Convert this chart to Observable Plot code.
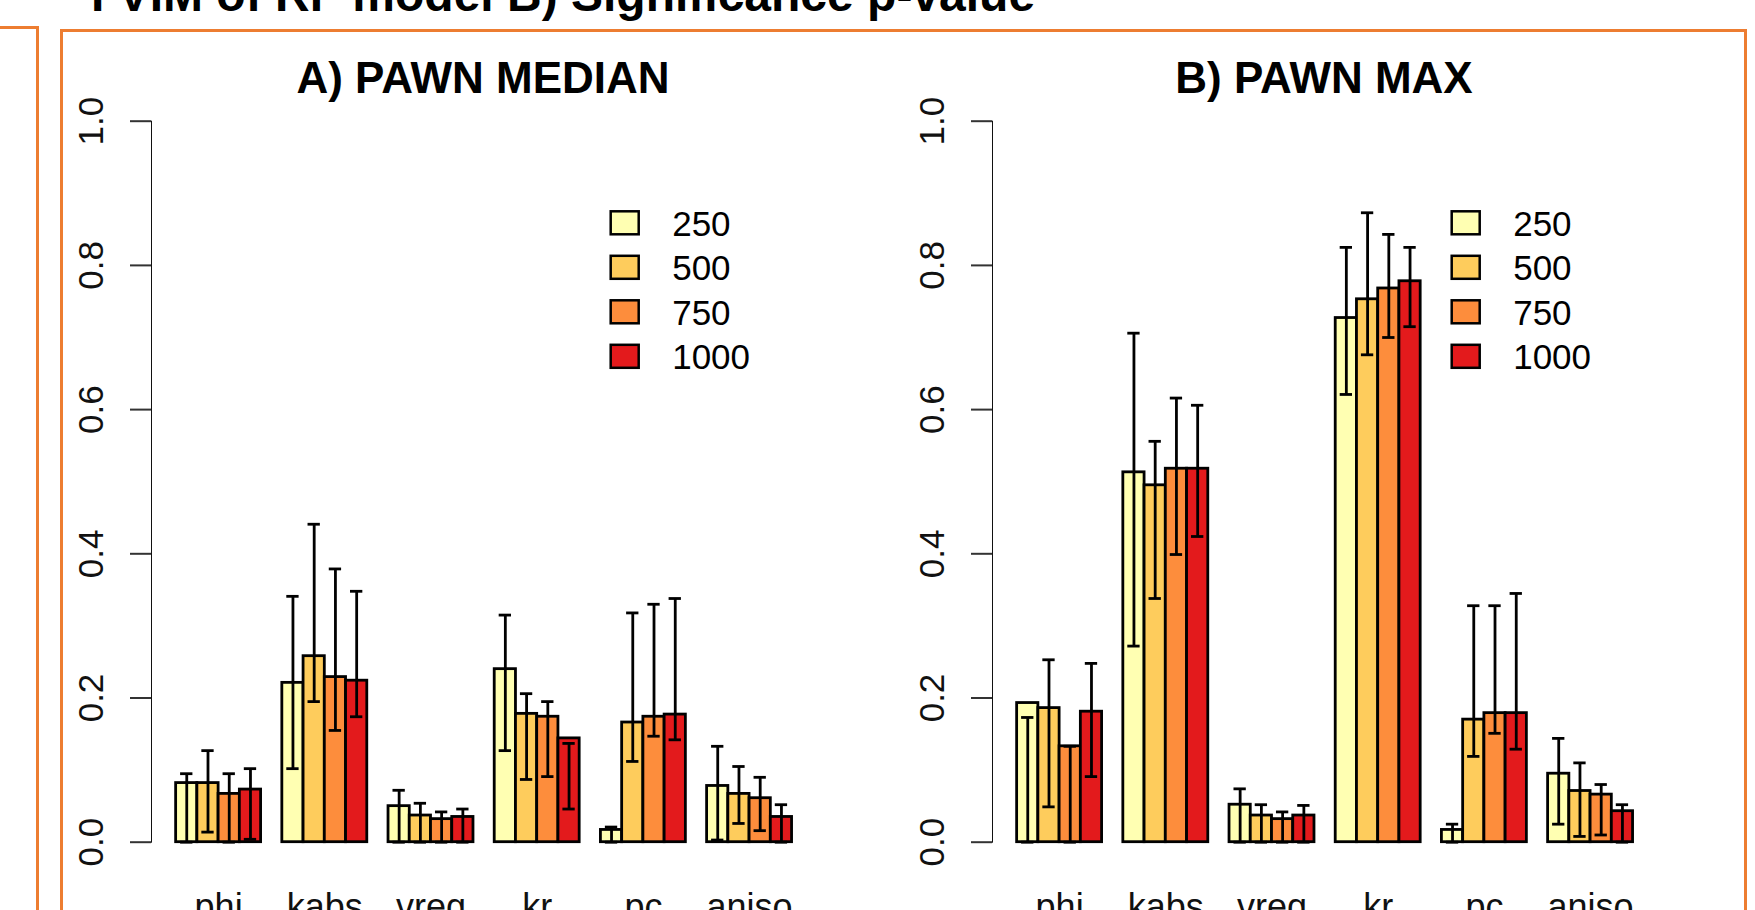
<!DOCTYPE html>
<html><head><meta charset="utf-8">
<script src="https://cdn.jsdelivr.net/npm/d3@7"></script>
<script src="https://cdn.jsdelivr.net/npm/@observablehq/plot@0.6"></script>
<style>
html,body{margin:0;padding:0;background:#fff;width:1755px;height:910px;overflow:hidden;font-family:"Liberation Sans",Arial,sans-serif;}
.panel{position:absolute;top:0;width:840px;height:910px;}
.panel svg{overflow:visible}
.frame{position:absolute;box-sizing:border-box;border:3.5px solid #ED7D31;border-bottom:none;}
#overlay{position:absolute;left:0;top:0;}
</style></head><body>
<div class="frame" style="left:-100px;top:26px;width:139px;height:1000px;"></div>
<div class="frame" style="left:60px;top:29px;width:1687px;height:1000px;"></div>
<div id="pA" class="panel" style="left:0px"></div>
<div id="pB" class="panel" style="left:841px"></div>
<svg id="overlay" width="1755" height="910"></svg>
<script>
// ---- data ----
const categories = ["phi", "kabs", "vreg", "kr", "pc", "aniso"];
const sizes = ["250", "500", "750", "1000"];
const colors = ["#FFFFB2", "#FECC5C", "#FD8D3C", "#E31A1C"];
const yTicks = [0, 0.2, 0.4, 0.6, 0.8, 1.0];
const topTitle = "I VIM of RF model B) Significance p-value";
const titleA = "A) PAWN MEDIAN";
const titleB = "B) PAWN MAX";

// A) PAWN MEDIAN: rows = categories, columns = sizes
const medianMean = [
  [0.082, 0.082, 0.067, 0.073],
  [0.221, 0.258, 0.229, 0.224],
  [0.050, 0.037, 0.032, 0.035],
  [0.240, 0.178, 0.174, 0.144],
  [0.017, 0.166, 0.174, 0.177],
  [0.078, 0.067, 0.061, 0.035]
];
const medianLow = [
  [0.000, 0.014, 0.000, 0.004],
  [0.102, 0.195, 0.155, 0.174],
  [0.000, 0.000, 0.000, 0.000],
  [0.127, 0.087, 0.091, 0.046],
  [0.000, 0.112, 0.147, 0.142],
  [0.003, 0.026, 0.016, 0.000]
];
const medianHigh = [
  [0.095, 0.127, 0.095, 0.102],
  [0.341, 0.441, 0.379, 0.348],
  [0.072, 0.054, 0.042, 0.046],
  [0.315, 0.206, 0.195, 0.137],
  [0.021, 0.318, 0.330, 0.338],
  [0.133, 0.105, 0.090, 0.052]
];

// B) PAWN MAX
const maxMean = [
  [0.193, 0.186, 0.133, 0.181],
  [0.513, 0.495, 0.518, 0.518],
  [0.052, 0.037, 0.032, 0.037],
  [0.727, 0.753, 0.768, 0.778],
  [0.017, 0.170, 0.179, 0.179],
  [0.095, 0.071, 0.066, 0.043]
];
const maxLow = [
  [0.000, 0.049, 0.000, 0.091],
  [0.272, 0.338, 0.399, 0.424],
  [0.000, 0.000, 0.000, 0.000],
  [0.621, 0.676, 0.700, 0.715],
  [0.000, 0.119, 0.151, 0.129],
  [0.025, 0.008, 0.010, 0.000]
];
const maxHigh = [
  [0.173, 0.253, 0.133, 0.248],
  [0.706, 0.556, 0.616, 0.606],
  [0.074, 0.052, 0.042, 0.051],
  [0.825, 0.873, 0.843, 0.825],
  [0.025, 0.328, 0.328, 0.345],
  [0.144, 0.110, 0.080, 0.052]
];

// R barplot(beside=TRUE) layout: one bar-width gap before each group
const nS = sizes.length, groupStep = nS + 1;
const capHalf = 0.29;

function panel(mean, low, high) {
  const rows = [];
  categories.forEach((c, g) => sizes.forEach((s, i) => {
    const left = g * groupStep + 1 + i;
    rows.push({cat: c, size: s, x1: left, x2: left + 1, xc: left + 0.5,
               v: mean[g][i], lo: low[g][i], hi: high[g][i]});
  }));
  const xMax = categories.length * groupStep;
  const pad = (xMax - 1) * 0.04;
  const svg = Plot.plot({
    width: 840, height: 910,
    marginLeft: 151, marginRight: 23.8, marginTop: 120.7, marginBottom: 68.3,
    style: {fontFamily: "Liberation Sans, Arial, sans-serif", fontSize: "35px", color: "#111", background: "transparent", overflow: "visible"},
    x: {domain: [1 - pad, xMax + pad], ticks: categories.map((c, g) => g * groupStep + 1 + nS / 2),
        tickFormat: t => categories[Math.round((t - 1 - nS / 2) / groupStep)], tickSize: 0, tickPadding: 51, label: null},
    y: {domain: [0, 1], ticks: yTicks, tickFormat: d3.format(".1f"), tickSize: 21, tickRotate: -90, tickPadding: 28, label: null, line: true},
    color: {domain: sizes, range: colors},
    marks: [
      Plot.rectY(rows, {x1: "x1", x2: "x2", y1: 0, y2: "v", fill: "size", stroke: "black", strokeWidth: 2.8}),
      Plot.ruleX(rows, {x: "xc", y1: "lo", y2: "hi", stroke: "black", strokeWidth: 2.8}),
      Plot.ruleY(rows, {y: "hi", x1: d => d.xc - capHalf, x2: d => d.xc + capHalf, stroke: "black", strokeWidth: 2.8}),
      Plot.ruleY(rows, {y: "lo", x1: d => d.xc - capHalf, x2: d => d.xc + capHalf, stroke: "black", strokeWidth: 2.8})
    ]
  });
  d3.select(svg).selectAll('[aria-label="y-axis tick"], [aria-label="y-axis line"], [aria-label="y-axis domain"]')
    .attr("stroke-width", 2).attr("stroke", "#333");
  d3.select(svg).selectAll('[aria-label="x-axis tick label"] text').attr("font-size", 36);
  return svg;
}

document.getElementById("pA").appendChild(panel(medianMean, medianLow, medianHigh));
document.getElementById("pB").appendChild(panel(maxMean, maxLow, maxHigh));

// ---- titles and legends (outside the plots) ----
const ov = d3.select("#overlay").attr("font-family", "Liberation Sans, Arial, sans-serif");
ov.append("text").attr("x", 91).attr("y", 11).attr("font-size", 48).attr("font-weight", "bold").text(topTitle);
ov.append("text").attr("x", 483).attr("y", 93.3).attr("text-anchor", "middle").attr("font-size", 44).attr("font-weight", "bold").text(titleA);
ov.append("text").attr("x", 1324).attr("y", 93.3).attr("text-anchor", "middle").attr("font-size", 44).attr("font-weight", "bold").text(titleB);

function legend(x0) {
  sizes.forEach((s, i) => {
    const cy = 222.8 + i * 44.5;
    ov.append("rect").attr("x", x0).attr("y", cy - 11.5).attr("width", 28).attr("height", 23)
      .attr("fill", colors[i]).attr("stroke", "black").attr("stroke-width", 2.5);
    ov.append("text").attr("x", x0 + 61.5).attr("y", cy + 12.7).attr("font-size", 35).text(s);
  });
}
legend(610.7);
legend(1451.7);
</script>
</body></html>
